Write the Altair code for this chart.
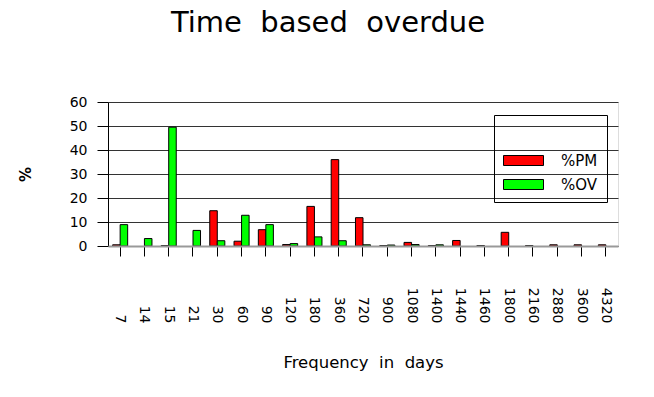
import altair as alt
import pandas as pd

categories = ["7", "14", "15", "21", "30", "60", "90", "120", "180", "360", "720",
              "900", "1080", "1400", "1440", "1460", "1800", "2160", "2880", "3600", "4320"]
pm_values = [0.5, 0, 0.2, 0, 14.7, 2.0, 6.8, 0.6, 16.5, 36.0, 11.8,
             0.2, 1.5, 0.2, 2.3, 0.2, 5.7, 0.2, 0.5, 0.5, 0.5]
ov_values = [8.9, 3.1, 49.5, 6.5, 2.2, 12.8, 8.9, 1.0, 3.8, 2.2, 0.5,
             0.4, 0.6, 0.5, 0, 0, 0, 0, 0, 0, 0]
series_names = ["%PM", "%OV"]
series_colors = ["#ff0000", "#00ff00"]
y_ticks = [0, 10, 20, 30, 40, 50, 60]

rows = []
for c, p, o in zip(categories, pm_values, ov_values):
    rows.append({"freq": c, "series": "%PM", "value": p})
    rows.append({"freq": c, "series": "%OV", "value": o})
df = pd.DataFrame(rows)

FONT = "DejaVu Sans"

chart = alt.Chart(df).transform_filter("datum.value > 0").mark_bar(
    stroke="black", strokeWidth=1
).encode(
    x=alt.X("freq:N", sort=categories,
            scale=alt.Scale(paddingInner=0.38, paddingOuter=0.19),
            axis=alt.Axis(labelAngle=90, labelAlign="right", labelBaseline="middle",
                          labelPadding=67, tickSize=10, tickColor="black",
                          domainColor="#999999", domainWidth=2, zindex=1,
                          labelFont=FONT, labelFontSize=14, labelColor="black",
                          title="Frequency \u00a0in \u00a0days", titleFont=FONT,
                          titleFontSize=16.5, titleFontWeight="normal", titleColor="black",
                          titleY=121, titleBaseline="alphabetic")),
    xOffset=alt.XOffset("series:N", sort=series_names,
                        scale=alt.Scale(paddingInner=0, paddingOuter=0)),
    y=alt.Y("value:Q", scale=alt.Scale(domain=[0, 60], nice=False),
            axis=alt.Axis(values=y_ticks, tickSize=11, tickColor="black",
                          domainColor="black", labelPadding=10, labelFont=FONT,
                          labelFontSize=14, labelColor="black", grid=True,
                          gridColor="#333333", title="%", titleFont=FONT,
                          titleFontSize=15, titleFontWeight="bold", titleColor="black",
                          titleX=-83, titleY=72, titleAlign="center",
                          titleBaseline="middle")),
    color=alt.Color("series:N",
                    scale=alt.Scale(domain=series_names, range=series_colors),
                    legend=alt.Legend(orient="none", legendX=386, legendY=13,
                                      title=" ", titleFontSize=18, titlePadding=11,
                                      strokeColor="black", padding=9,
                                      symbolType="M-4,-1L4,-1L4,1L-4,1Z", symbolSize=100,
                                      symbolStrokeColor="black", symbolStrokeWidth=1,
                                      symbolOffset=13, labelOffset=30, rowPadding=8,
                                      labelFont=FONT, labelFontSize=15, labelColor="black")),
).properties(
    width=510, height=144,
    padding={"left": 100, "top": 94, "right": 28, "bottom": 143},
    autosize=alt.AutoSizeParams(type="none"),
    title=alt.Title("Time \u00a0based \u00a0overdue", font=FONT, fontSize=29,
                    fontWeight="normal", color="black", anchor="middle",
                    frame="group", dx=-35, offset=34, baseline="alphabetic"),
).configure_view(strokeWidth=0).configure(background="white")

chart.save("out.html", embed_options={"renderer": "svg", "actions": False})
